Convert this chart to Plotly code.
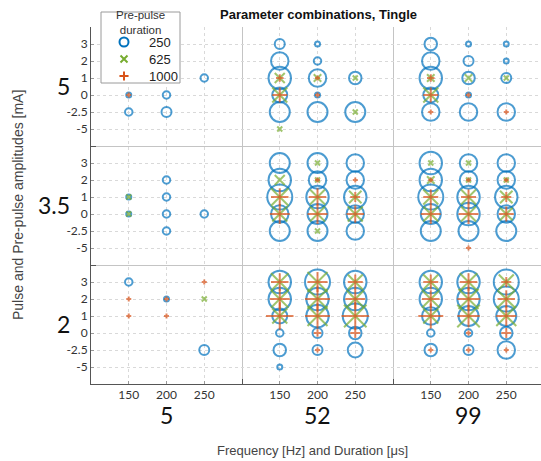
import plotly.graph_objects as go

# ---- categories -------------------------------------------------------------
pulse_amps = ["5", "3.5", "2"]             # pulse amplitude [mA], rows top to bottom
durations = ["5", "52", "99"]              # pulse duration [us], column groups
freqs = ["150", "200", "250"]              # frequency [Hz] inside each group
levels = ["3", "2", "1", "0", "-2.5", "-5"]  # pre-pulse amplitude [mA]
prepulse = ["250", "625", "1000"]          # pre-pulse duration

# ---- counts -----------------------------------------------------------------
# one row per (duration, frequency): d5/f150, d5/f200, d5/f250, d52/f150, ...
# columns follow `levels`; 0 = combination not present
n250_p5 = [
    [0, 0, 0, 1, 2, 0], [0, 0, 0, 2, 3, 0], [0, 0, 2, 0, 0, 0],
    [3, 6, 8, 5, 7, 0], [1, 2, 6, 1, 7, 0], [0, 0, 4, 0, 7, 0],
    [4, 6, 8, 5, 6, 0], [1, 3, 4, 1, 6, 0], [1, 1, 3, 0, 6, 0],
]
n250_p35 = [
    [0, 0, 1, 1, 0, 0], [0, 2, 2, 2, 2, 0], [0, 0, 0, 2, 0, 0],
    [7, 8, 9, 6, 7, 0], [7, 6, 8, 7, 7, 0], [6, 6, 8, 6, 6, 0],
    [8, 8, 9, 7, 7, 0], [6, 6, 8, 8, 7, 0], [6, 6, 8, 6, 7, 0],
]
n250_p2 = [
    [2, 0, 0, 0, 0, 0], [0, 1, 0, 0, 0, 0], [0, 0, 0, 0, 3, 0],
    [8, 8, 5, 2, 4, 1], [9, 8, 8, 3, 3, 0], [8, 8, 9, 4, 5, 0],
    [8, 8, 6, 2, 4, 0], [8, 8, 7, 2, 3, 0], [9, 9, 7, 4, 6, 0],
]

n625_p5 = [
    [0, 0, 0, 0, 0, 0], [0, 0, 0, 0, 0, 0], [0, 0, 0, 0, 0, 0],
    [0, 0, 3, 5, 0, 1], [0, 0, 2, 0, 0, 0], [0, 0, 1, 0, 1, 0],
    [0, 0, 2, 5, 0, 0], [0, 0, 2, 0, 0, 0], [0, 0, 1, 0, 0, 0],
]
n625_p35 = [
    [0, 0, 1, 1, 0, 0], [0, 0, 0, 0, 0, 0], [0, 0, 0, 0, 0, 0],
    [0, 3, 6, 5, 0, 0], [1, 1, 5, 5, 1, 0], [0, 0, 4, 5, 0, 0],
    [1, 2, 5, 5, 0, 0], [1, 1, 5, 5, 0, 0], [0, 1, 4, 4, 0, 0],
]
n625_p2 = [
    [0, 0, 0, 0, 0, 0], [0, 0, 0, 0, 0, 0], [0, 1, 0, 0, 0, 0],
    [6, 6, 5, 0, 0, 0], [7, 7, 7, 0, 0, 0], [5, 6, 8, 0, 0, 0],
    [5, 6, 5, 0, 0, 0], [6, 7, 8, 0, 0, 0], [5, 6, 7, 0, 0, 0],
]

n1000_p5 = [
    [0, 0, 0, 1, 0, 0], [0, 0, 0, 0, 0, 0], [0, 0, 0, 0, 0, 0],
    [0, 0, 2, 5, 0, 0], [0, 0, 1, 1, 0, 0], [0, 0, 0, 0, 0, 0],
    [0, 0, 2, 5, 1, 0], [0, 0, 0, 1, 0, 0], [0, 0, 0, 0, 1, 0],
]
n1000_p35 = [
    [0, 0, 0, 0, 0, 0], [0, 0, 0, 0, 0, 0], [0, 0, 0, 0, 0, 0],
    [0, 0, 6, 7, 0, 0], [0, 1, 6, 7, 0, 0], [0, 1, 3, 6, 0, 0],
    [0, 1, 5, 7, 0, 0], [0, 1, 5, 7, 0, 1], [0, 1, 3, 5, 0, 0],
]
n1000_p2 = [
    [0, 1, 1, 0, 0, 0], [0, 1, 1, 0, 0, 0], [1, 0, 0, 0, 0, 0],
    [6, 7, 10, 0, 0, 0], [7, 9, 9, 2, 1, 0], [5, 7, 10, 3, 0, 0],
    [5, 6, 9, 0, 1, 0], [6, 8, 8, 1, 1, 0], [3, 6, 7, 3, 1, 0],
]

counts = {
    "250": [n250_p5, n250_p35, n250_p2],
    "625": [n625_p5, n625_p35, n625_p2],
    "1000": [n1000_p5, n1000_p35, n1000_p2],
}

# ---- styling ----------------------------------------------------------------
BLUE, GREEN, ORANGE = "#0072BD", "#77AC30", "#D95319"
styles = {
    "250": dict(symbol="circle-open", color=BLUE, span=1.0, key=9),
    "625": dict(symbol="x-thin-open", color=GREEN, span=1.0, key=7),
    "1000": dict(symbol="cross-thin-open", color=ORANGE, span=1.4, key=6.5),
}
ROW_UNITS = 7      # six levels plus padding per pulse-amplitude band
GROUP_UNITS = 4    # three frequencies plus padding per duration group

# figure geometry (pixels)
W, H = 541, 461
M_L, M_R, M_T, M_B = 91, 0, 10, 77
PLOT_TOP = 27                     # top edge of the main axes
PAPER_H = H - M_T - M_B
BOTTOM = H - M_B                  # pixel row of the x axis


def px_x(px):
    return (px - M_L) / (W - M_L - M_R)


def px_y(py):
    return (BOTTOM - py) / PAPER_H


def diameter(n):
    return 2.5 * n + 2.5


SANS = "Liberation Sans, Arial, sans-serif"
NUM = "Lato, Liberation Sans, sans-serif"

fig = go.Figure()

for key in prepulse:
    st = styles[key]
    xs, ys, ss = [], [], []
    for r, table in enumerate(counts[key]):
        base_y = (len(pulse_amps) - 1 - r) * ROW_UNITS
        for k, row in enumerate(table):
            g, f = divmod(k, len(freqs))
            for li, n in enumerate(row):
                if n <= 0:
                    continue
                xs.append(g * GROUP_UNITS + f + 1)
                ys.append(base_y + len(levels) - li)
                ss.append(diameter(n) / st["span"])
    fig.add_trace(go.Scatter(
        x=xs, y=ys, mode="markers", showlegend=False, hoverinfo="skip",
        marker=dict(symbol=st["symbol"], size=ss, color=st["color"],
                    line=dict(width=2, color=st["color"])),
    ))

# ---- legend panel (own small subplot, box units in pixels) ------------------
LEG_L, LEG_T, LEG_W, LEG_H = 101, 12, 79, 71
fig.add_trace(go.Scatter(
    x=[0, LEG_W, LEG_W, 0, 0], y=[0, 0, LEG_H, LEG_H, 0],
    xaxis="x2", yaxis="y2", mode="lines", fill="toself", fillcolor="white",
    line=dict(color="#9a9a9a", width=1), showlegend=False, hoverinfo="skip",
))
KEY_X, TEXT_X, KEY_Y0, KEY_DY = 23, 46, 30, 17
for i, key in enumerate(prepulse):
    st = styles[key]
    fig.add_trace(go.Scatter(
        x=[KEY_X], y=[KEY_Y0 + i * KEY_DY], xaxis="x2", yaxis="y2",
        mode="markers", showlegend=False, hoverinfo="skip",
        marker=dict(symbol=st["symbol"], size=st["key"], color=st["color"],
                    line=dict(width=2, color=st["color"])),
    ))

# ---- axes -------------------------------------------------------------------
x_ticks, x_text = [], []
for g in range(len(durations)):
    for f, lab in enumerate(freqs):
        x_ticks.append(g * GROUP_UNITS + f + 1)
        x_text.append(lab)

y_ticks, y_text = [], []
for r in range(len(pulse_amps)):
    base_y = (len(pulse_amps) - 1 - r) * ROW_UNITS
    for li, lab in enumerate(levels):
        y_ticks.append(base_y + len(levels) - li)
        y_text.append(lab)

n_rows = len(pulse_amps)
n_groups = len(durations)

axis_common = dict(
    showgrid=True, gridcolor="#d9d9d9", griddash="dot", gridwidth=1,
    ticks="inside", ticklen=3, tickcolor="#999999",
    showline=True, linecolor="#555555", linewidth=1, zeroline=False,
    tickfont=dict(family=NUM, size=12, color="#333333"),
)

fig.update_layout(
    xaxis=dict(
        range=[0, 11.92], tickmode="array", tickvals=x_ticks, ticktext=x_text,
        domain=[0, 1], anchor="y",
        minor=dict(tickmode="array", tickvals=[GROUP_UNITS * g for g in range(1, n_groups)],
                   showgrid=True, gridcolor="#c4c4c4", griddash="solid",
                   ticks="inside", ticklen=5, tickcolor="#555555"),
        **axis_common,
    ),
    yaxis=dict(
        range=[0, ROW_UNITS * n_rows], tickmode="array", tickvals=y_ticks, ticktext=y_text,
        domain=[0, px_y(PLOT_TOP)], anchor="x",
        minor=dict(tickmode="array", tickvals=[ROW_UNITS * r for r in range(1, n_rows)],
                   showgrid=True, gridcolor="#c4c4c4", griddash="solid",
                   ticks="inside", ticklen=5, tickcolor="#555555"),
        **axis_common,
    ),
    xaxis2=dict(domain=[px_x(LEG_L - 1), px_x(LEG_L + LEG_W + 1)], range=[-1, LEG_W + 1],
                anchor="y2", visible=False, fixedrange=True),
    yaxis2=dict(domain=[px_y(LEG_T + LEG_H + 1), px_y(LEG_T - 1)], range=[LEG_H + 1, -1],
                anchor="x2", visible=False, fixedrange=True),
)

# ---- text -------------------------------------------------------------------
big_font = dict(family=NUM, size=23, color="#111111")
annotations = []
for r, amp in enumerate(pulse_amps):
    annotations.append(dict(
        x=px_x(72), xref="paper", xanchor="right",
        y=(n_rows - 1 - r) * ROW_UNITS + 3.55, yref="y", yanchor="middle",
        text=amp, showarrow=False, font=big_font,
    ))
for g, dur in enumerate(durations):
    annotations.append(dict(
        x=g * GROUP_UNITS + 2, xref="x", xanchor="center",
        y=px_y(415), yref="paper", yanchor="middle",
        text=dur, showarrow=False, font=big_font,
    ))
annotations.append(dict(
    x=px_x(312), xref="paper", y=px_y(450), yref="paper", xanchor="center", yanchor="middle",
    text="Frequency [Hz] and Duration [μs]", showarrow=False,
    font=dict(family=SANS, size=13, color="#444444"),
))
annotations.append(dict(
    x=px_x(18), xref="paper", y=px_y(205), yref="paper", xanchor="center", yanchor="middle",
    text="Pulse and Pre-pulse amplitudes [mA]", textangle=-90, showarrow=False,
    font=dict(family=SANS, size=14, color="#444444"),
))
annotations.append(dict(
    x=px_x(318), xref="paper", y=px_y(14), yref="paper", xanchor="center", yanchor="middle",
    text="<b>Parameter combinations, Tingle</b>", showarrow=False,
    font=dict(family=SANS, size=13, color="#111111"),
))
# legend title and entries
annotations.append(dict(
    x=LEG_W / 2, xref="x2", y=10.5, yref="y2", xanchor="center", yanchor="middle",
    text="Pre-pulse<br>duration", showarrow=False,
    font=dict(family=SANS, size=11.5, color="#333333"),
))
for i, key in enumerate(prepulse):
    annotations.append(dict(
        x=TEXT_X, xref="x2", y=KEY_Y0 + i * KEY_DY, yref="y2", xanchor="left", yanchor="middle",
        text=key, showarrow=False, font=dict(family=SANS, size=13, color="#222222"),
    ))

fig.update_layout(
    width=W, height=H,
    margin=dict(l=M_L, r=M_R, t=M_T, b=M_B),
    plot_bgcolor="white", paper_bgcolor="white",
    annotations=annotations,
    showlegend=False,
)

fig.write_html("out.html")
